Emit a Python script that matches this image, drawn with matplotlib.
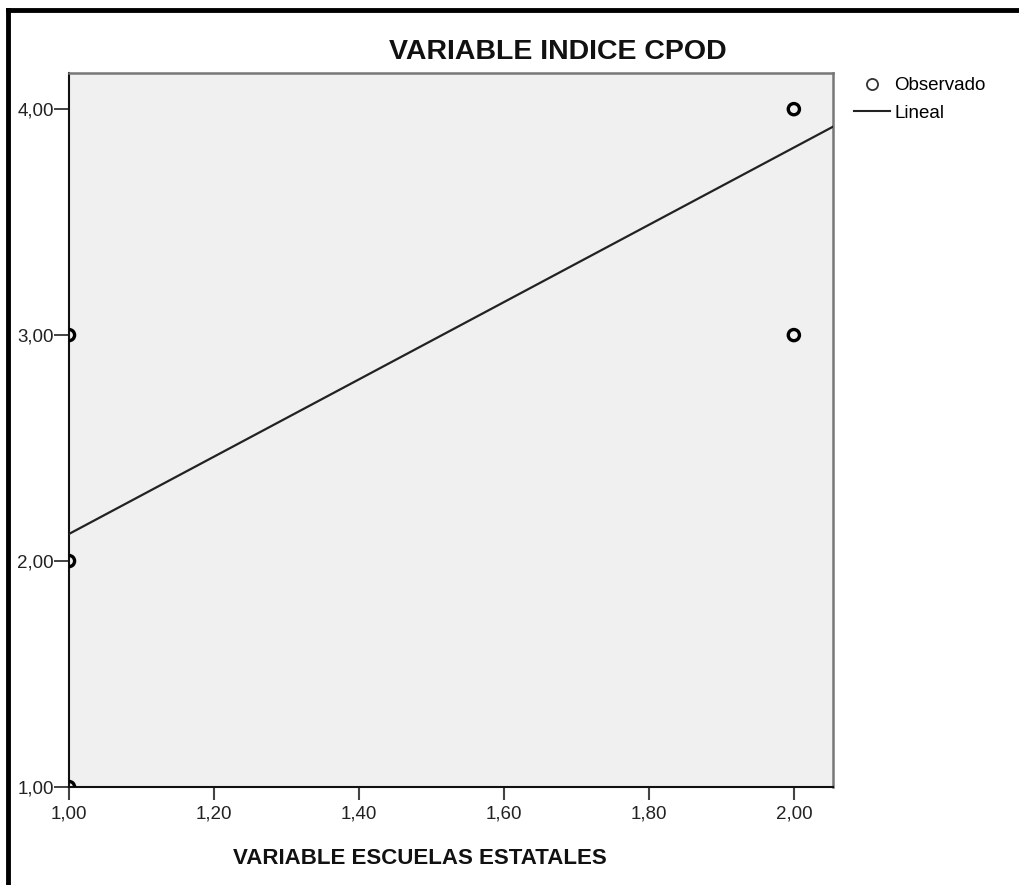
import numpy as np
import matplotlib.pyplot as plt
from matplotlib.lines import Line2D

plt.rcParams['font.family'] = ['Liberation Sans', 'DejaVu Sans']

# Observed points (x = escuelas estatales, y = indice CPOD)
obs_x = [1.0, 1.0, 1.0, 2.0, 2.0]
obs_y = [3.0, 2.0, 1.0, 4.0, 3.0]

# Linear fit
fit_intercept = 0.41
fit_slope = 1.71

x_ticks = [1.0, 1.2, 1.4, 1.6, 1.8, 2.0]
y_ticks = [1.0, 2.0, 3.0, 4.0]

def coma(v):
    return ("%.2f" % v).replace(".", ",")

W, H = 1019, 885
fig = plt.figure(figsize=(W / 100, H / 100), dpi=100)

# axes box in pixels
L, R, T, B = 69, 833, 73, 787
ax = fig.add_axes([L / W, 1 - B / H, (R - L) / W, (B - T) / H])
ax.set_facecolor('#f0f0f0')
ax.set_xlim(1.0, 2.054)
ax.set_ylim(1.0, 4.16)

xl = np.array(ax.get_xlim())
ax.plot(xl, fit_intercept + fit_slope * xl, color='#222222', lw=1.6, zorder=3)
ax.scatter(obs_x, obs_y, s=65, facecolors='none', edgecolors='black',
           linewidths=2.4, zorder=4, clip_on=True)

ax.set_xticks(x_ticks)
ax.set_xticklabels([coma(v) for v in x_ticks])
ax.set_yticks(y_ticks)
ax.set_yticklabels([coma(v) for v in y_ticks])
ax.tick_params(axis='x', length=9, width=1.5, color='#444444', labelsize=13.5,
               labelcolor='#222222', pad=4)
ax.tick_params(axis='y', length=11, width=1.2, color='#222222', labelsize=13.5,
               labelcolor='#222222', pad=0)

for s in ['left', 'bottom']:
    ax.spines[s].set_color('#111111')
    ax.spines[s].set_linewidth(1.5)
for s in ['top', 'right']:
    ax.spines[s].set_color('#777777')
    ax.spines[s].set_linewidth(1.8)

fig.text(558 / W, 1 - 52 / H, 'VARIABLE INDICE CPOD', ha='center', va='center',
         fontsize=20.5, fontweight='bold', color='#111111')
fig.text(420 / W, 1 - 858 / H, 'VARIABLE ESCUELAS ESTATALES', ha='center',
         va='center', fontsize=16, fontweight='bold', color='#111111')

# legend
handles = [Line2D([], [], marker='o', ls='none', mfc='none', mec='#333333',
                  mew=1.3, ms=8),
           Line2D([], [], color='#222222', lw=1.5)]
fig.legend(handles, ['Observado', 'Lineal'], loc='upper left',
           bbox_to_anchor=(854 / W, 1 - 77 / H), frameon=False, fontsize=13.5,
           handlelength=1.9, handletextpad=0.25, labelspacing=0.55,
           borderpad=0, borderaxespad=0)

# outer frame (left and top only visible)
fig.add_artist(Line2D([8 / W, 8 / W], [0, 1 - 10 / H], transform=fig.transFigure,
                      color='black', lw=3.5, solid_capstyle='projecting'))
fig.add_artist(Line2D([8 / W, 1], [1 - 10 / H, 1 - 10 / H], transform=fig.transFigure,
                      color='black', lw=3.5, solid_capstyle='projecting'))

fig.savefig('out.png', dpi=100)
